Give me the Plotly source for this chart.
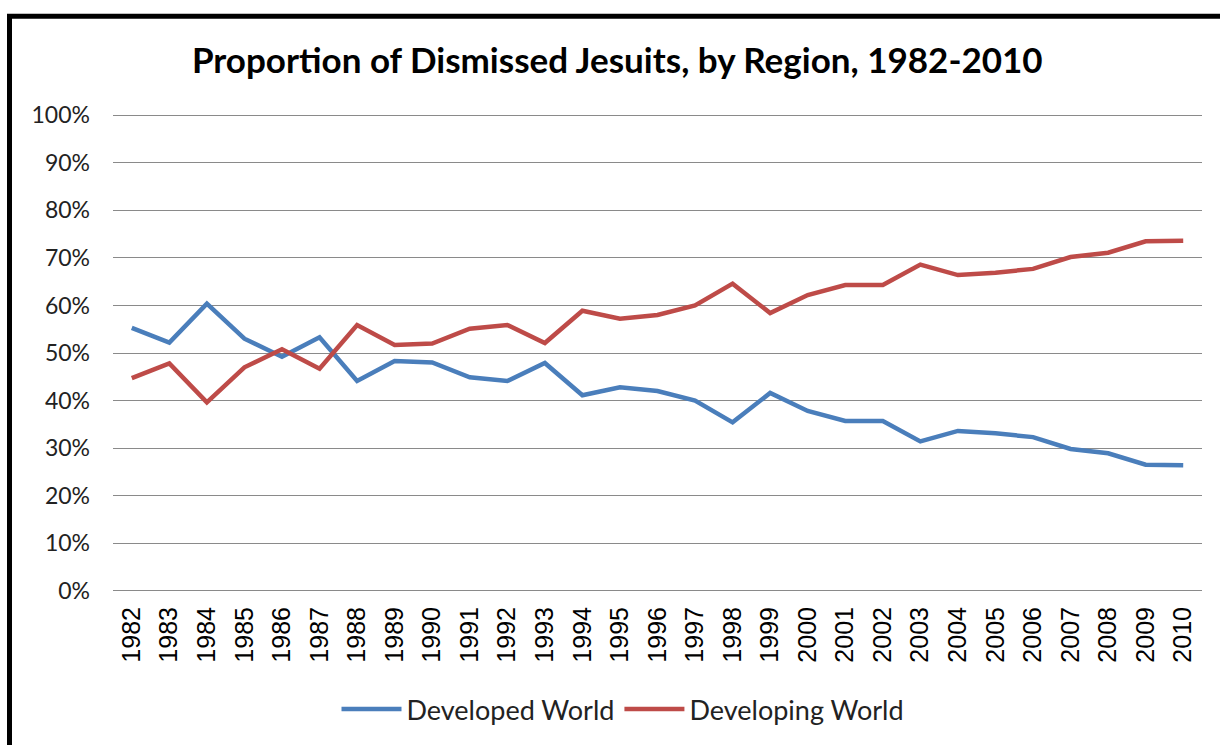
import plotly.graph_objects as go

# data
years = [str(y) for y in range(1982, 2011)]
developed = [55.3, 52.2, 60.4, 53.0, 49.2, 53.3, 44.1, 48.3, 48.0, 44.9,
             44.1, 47.9, 41.1, 42.8, 42.0, 40.0, 35.4, 41.6, 37.8, 35.7,
             35.7, 31.4, 33.6, 33.1, 32.3, 29.8, 28.9, 26.5, 26.4]
developing = [44.7, 47.8, 39.6, 47.0, 50.8, 46.7, 55.9, 51.7, 52.0, 55.1,
              55.9, 52.1, 58.9, 57.2, 58.0, 60.0, 64.6, 58.4, 62.2, 64.3,
              64.3, 68.6, 66.4, 66.9, 67.7, 70.2, 71.1, 73.5, 73.6]

W, H = 1220, 745
PAD = 0.005          # small y padding so the 100% gridline is drawn
L, R = 113, 18
T = 115 - 477 * PAD
B = 153 - 477 * PAD
PW = W - L - R
PH = H - T - B


def px(x):
    return (x - L) / PW


def py(y):
    return (H - B - y) / PH


fig = go.Figure()

fig.add_trace(go.Scatter(
    x=years, y=[v / 100 for v in developed],
    mode='lines', name='Developed World',
    line=dict(color='#4A7EBB', width=4.5),
))
fig.add_trace(go.Scatter(
    x=years, y=[v / 100 for v in developing],
    mode='lines', name='Developing World',
    line=dict(color='#BE4B48', width=4.5),
))

# black frame (left and top edges)
fig.add_shape(type='line', xref='paper', yref='paper',
              x0=px(9.5), x1=px(9.5), y0=py(15.5), y1=py(H + 5),
              line=dict(color='black', width=5))
fig.add_shape(type='line', xref='paper', yref='paper',
              x0=px(7), x1=px(W + 5), y0=py(15.5), y1=py(15.5),
              line=dict(color='black', width=5))

fig.update_layout(
    width=W, height=H,
    margin=dict(l=L, r=R, t=T, b=B),
    paper_bgcolor='white', plot_bgcolor='white',
    title=dict(text='<b>Proportion of Dismissed Jesuits, by Region, 1982-2010</b>',
               x=0.506, xanchor='center', y=1 - 61 / H, yanchor='middle',
               font=dict(family='Lato', size=35, color='black')),
    xaxis=dict(type='category', tickangle=-90, showgrid=False,
               showline=False, ticks='', range=[-0.5, 28.5],
               ticklabelstandoff=8,
               tickfont=dict(family='Liberation Sans', size=25, color='black')),
    yaxis=dict(range=[-PAD, 1 + PAD], tickformat='.0%', dtick=0.1,
               showgrid=True, gridcolor='#8a8a8a', gridwidth=1,
               zeroline=True, zerolinecolor='#8a8a8a', zerolinewidth=1,
               ticks='', ticklabelstandoff=22,
               tickfont=dict(family='Lato', size=23, color='#222222')),
    legend=dict(orientation='h', x=px(623), xanchor='center',
                y=py(710), yanchor='middle',
                font=dict(family='Lato', size=27, color='#222222'),
                itemwidth=60),
    showlegend=True,
)

fig.write_html("out.html", config={'displayModeBar': False},
               post_script="document.body.style.margin='0';")
